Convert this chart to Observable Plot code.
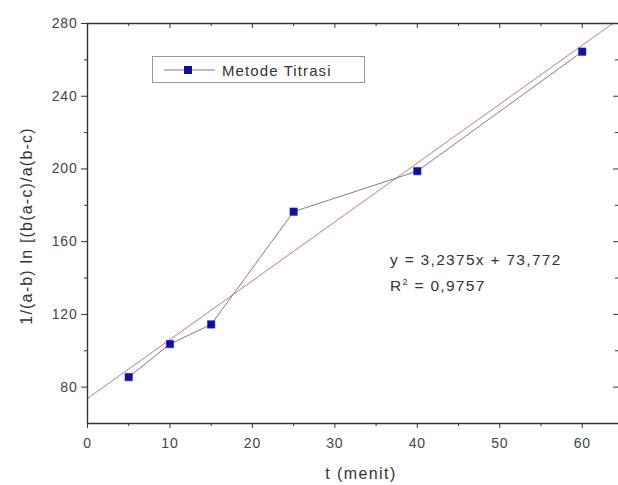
<!DOCTYPE html>
<html><head><meta charset="utf-8">
<script src="https://cdn.jsdelivr.net/npm/d3@7"></script>
<script src="https://cdn.jsdelivr.net/npm/@observablehq/plot@0.6"></script>
<style>
html,body{margin:0;padding:0;background:#fff;}
#chart{position:relative;width:618px;height:485px;}
svg{font-family:"Liberation Sans",Arial,sans-serif;}
</style></head>
<body><div id="chart"></div>
<script>
const tValues = [5, 10, 15, 25, 40, 60];
const yValues = [85.5, 103.7, 114.5, 176.5, 198.8, 264.5];
const slope = 3.2375;
const intercept = 73.772;
const seriesName = "Metode Titrasi";
const equationText = "y = 3,2375x + 73,772";
const r2Text = "0,9757";
const xTicks = [0, 10, 20, 30, 40, 50, 60];
const xMinor = [5, 15, 25, 35, 45, 55];
const yTicks = [80, 120, 160, 200, 240, 280];
const yMinor = [100, 140, 180, 220, 260];
const xLabel = "t (menit)";
const yLabel = "1/(a-b) ln [(b(a-c)/a(b-c)";

const data = tValues.map((t, i) => ({t, y: yValues[i]}));
const yMax = 280, yMin = 60;
const fit = [0, (yMax - intercept) / slope].map(x => ({x, y: slope * x + intercept}));

const W = 618, H = 485, mL = 87, mR = 0, mT = 23, mB = 62;
const plotH = H - mT - mB, plotW = W - mL - mR;
const axisColor = "#333";

const chart = Plot.plot({
  width: W, height: H,
  marginLeft: mL, marginRight: mR, marginTop: mT, marginBottom: mB,
  style: {fontFamily: "Liberation Sans, Arial, sans-serif", background: "#fff"},
  x: {domain: [0, 64.4], axis: null},
  y: {domain: [yMin, yMax], axis: null},
  marks: [
    Plot.line(fit, {x: "x", y: "y", stroke: "#c87878", strokeWidth: 1}),
    Plot.line(data, {x: "t", y: "y", stroke: "#7a7a9a", strokeWidth: 1}),
    Plot.dot(data, {x: "t", y: "y", symbol: "square", r: 4.2, fill: "#10109a", stroke: "#2a2ac0", strokeWidth: 0.6}),
    Plot.ruleX([0], {stroke: axisColor, strokeWidth: 1.4}),
    Plot.ruleY([yMin], {stroke: axisColor, strokeWidth: 1.4}),
    Plot.ruleY([yMax], {stroke: axisColor, strokeWidth: 1.4}),
    Plot.axisX({ticks: xTicks, tickSize: 5, tickPadding: 10, fontSize: 14, fill: "#444", stroke: axisColor, label: null, anchor: "bottom"}),
    Plot.axisX({ticks: xMinor, tickSize: 3, text: null, stroke: axisColor, label: null, anchor: "bottom"}),
    Plot.axisY({ticks: yTicks, tickSize: 6, tickPadding: 4, fontSize: 14, fill: "#444", stroke: axisColor, label: null, anchor: "left"}),
    Plot.axisY({ticks: yMinor, tickSize: 3, text: null, stroke: axisColor, label: null, anchor: "left"}),
    Plot.ruleX(xTicks, {x: d => d, insetBottom: plotH - 5, stroke: axisColor}),
    Plot.ruleX(xMinor, {x: d => d, insetBottom: plotH - 3, stroke: axisColor}),
    Plot.ruleY(yTicks, {y: d => d, insetLeft: plotW - 5, stroke: axisColor}),
    Plot.ruleY(yMinor, {y: d => d, insetLeft: plotW - 3, stroke: axisColor})
  ]
});

document.getElementById("chart").appendChild(chart);
const svg = d3.select(chart);
svg.selectAll("g[aria-label='x-axis tick label'] text, g[aria-label='y-axis tick label'] text")
  .attr("letter-spacing", 0.8);

svg.append("text").attr("x", 361).attr("y", 479).attr("text-anchor", "middle")
  .attr("font-size", 16).attr("letter-spacing", 1.4).attr("fill", "#333").text(xLabel);
svg.append("text").attr("transform", "translate(32,226) rotate(-90)").attr("text-anchor", "middle")
  .attr("font-size", 16).attr("letter-spacing", 1.2).attr("fill", "#333").text(yLabel);

const lg = svg.append("g").attr("text-anchor", "start");
lg.append("rect").attr("x", 152.5).attr("y", 56.5).attr("width", 212).attr("height", 26)
  .attr("fill", "#fff").attr("stroke", "#999").attr("stroke-width", 1);
lg.append("line").attr("x1", 164).attr("x2", 215).attr("y1", 70).attr("y2", 70)
  .attr("stroke", "#7a7a9a").attr("stroke-width", 1);
lg.append("rect").attr("x", 184).attr("y", 66).attr("width", 8).attr("height", 8)
  .attr("fill", "#10109a");
lg.append("text").attr("x", 222).attr("y", 75.5).attr("font-size", 15).attr("letter-spacing", 1.1)
  .attr("fill", "#333").text(seriesName);

const eq = svg.append("g").attr("font-size", 15.5).attr("letter-spacing", 1.3).attr("fill", "#333").attr("text-anchor", "start");
eq.append("text").attr("x", 390).attr("y", 265).text(equationText);
const r = eq.append("text").attr("x", 390).attr("y", 291);
r.append("tspan").text("R");
r.append("tspan").attr("dy", -6).attr("font-size", 9).text("2");
r.append("tspan").attr("dy", 6).text(" = " + r2Text);
</script></body></html>
